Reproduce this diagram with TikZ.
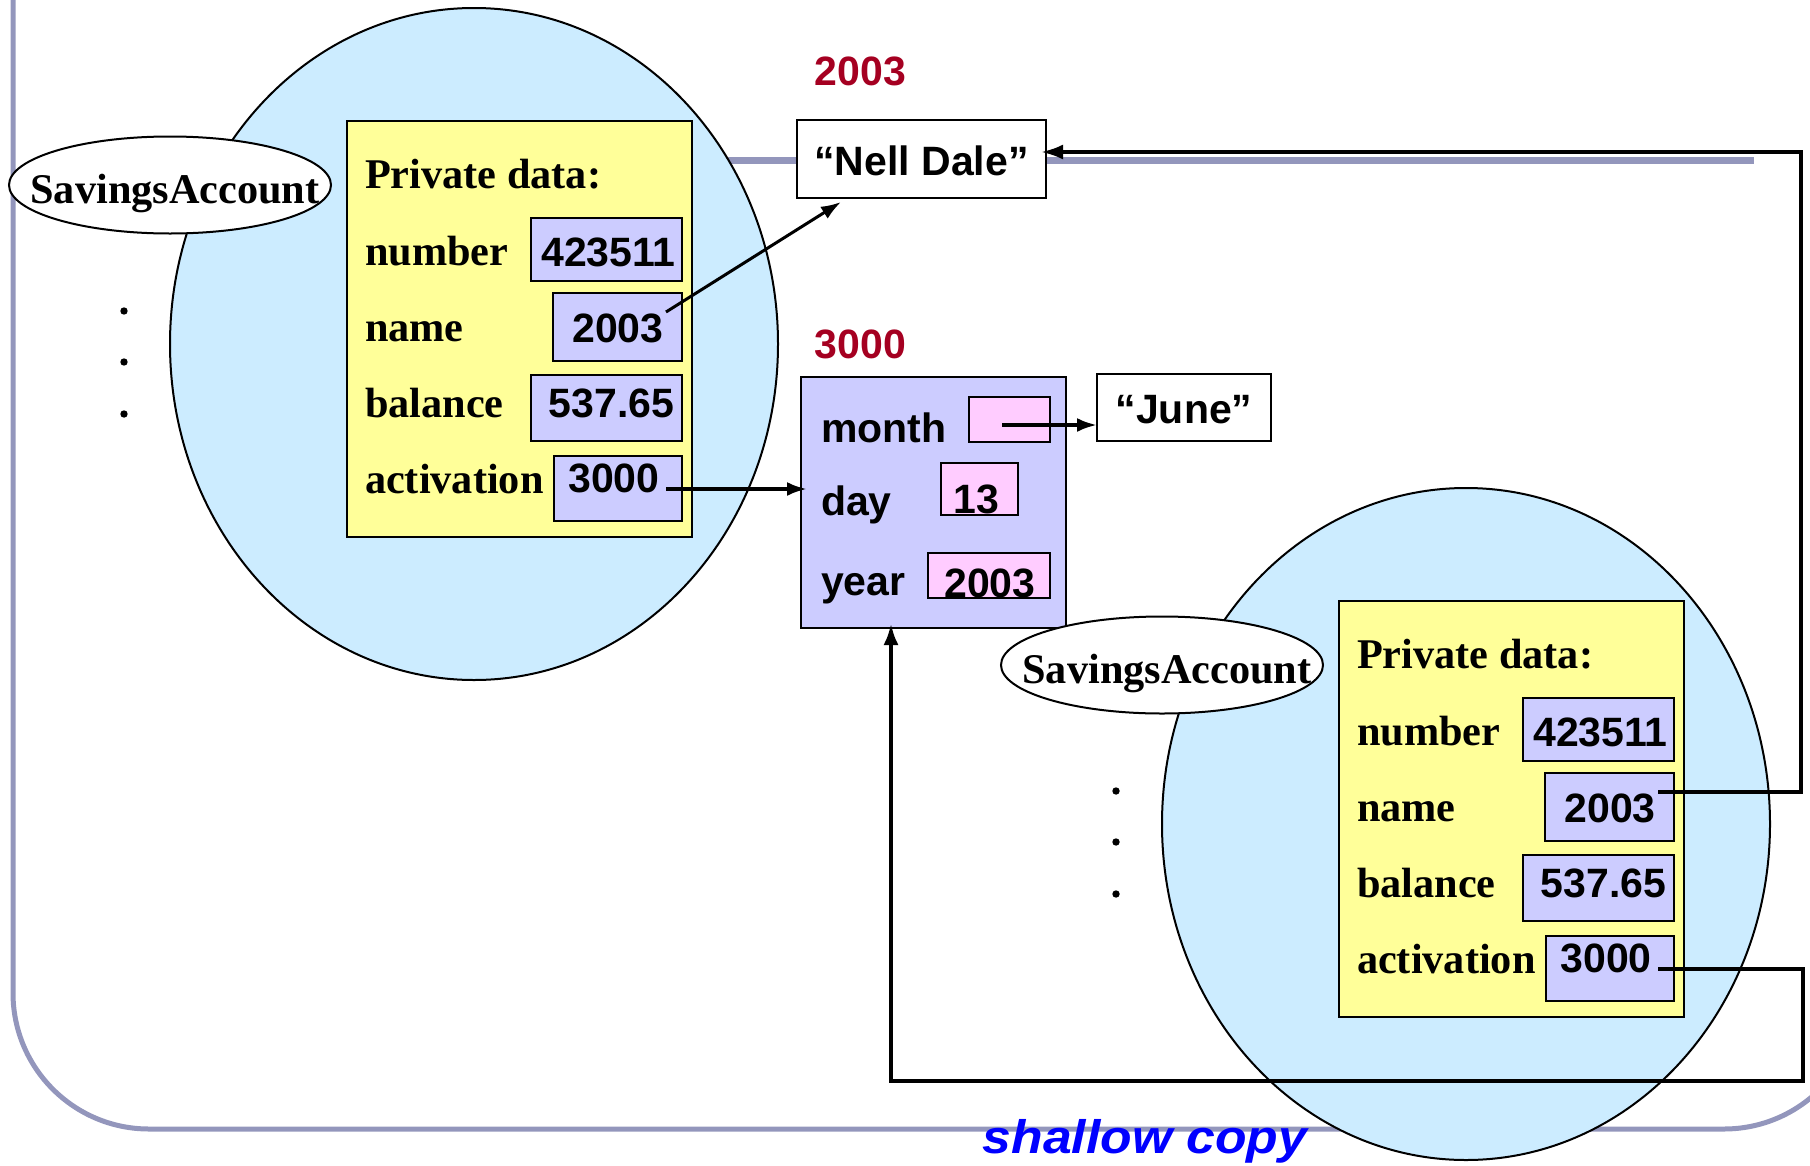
\documentclass[tikz,border=0pt]{standalone}
\usepackage{fontspec}
\usepackage{graphicx}
\setmainfont{Liberation Serif}
\newfontfamily\arialfont{Liberation Sans}
\usetikzlibrary{shapes.geometric,arrows.meta}

\definecolor{objblue}{RGB}{204,236,255}
\definecolor{privyellow}{RGB}{255,255,153}
\definecolor{vallav}{RGB}{204,204,255}
\definecolor{datepink}{RGB}{255,204,255}
\definecolor{framegray}{RGB}{147,150,188}
\definecolor{addrred}{RGB}{165,0,33}
\definecolor{capblue}{RGB}{0,0,255}

\tikzset{
  every node/.style={inner sep=0pt, outer sep=0pt},
  objell/.style={ellipse, draw, line width=2pt, fill=objblue,
    minimum width=608pt, minimum height=672pt},
  classell/.style={ellipse, draw, line width=2pt, fill=white,
    minimum width=322pt, minimum height=97pt},
  privbox/.style={rectangle, draw, line width=2pt, fill=privyellow},
  valbox/.style={rectangle, draw, line width=2pt, fill=vallav},
  fieldbox/.style={rectangle, draw, line width=2pt, fill=datepink},
  strbox/.style={rectangle, draw, line width=2pt, fill=white},
  serif/.style={font=\fontsize{42.3}{50}\selectfont\bfseries},
  sans/.style={font=\arialfont\fontsize{41}{49}\selectfont\bfseries},
  addr/.style={sans, text=addrred, anchor=base},
  ptr/.style={line width=3pt, line join=miter, -{Latex[length=20pt,width=14pt]}},
  backlink/.style={line join=miter, -{Latex[length=22pt,width=15pt]}},
  dot/.style={fill=black},
}

% one SavingsAccount object: ellipse, private data and its values
\newcommand\accountobject[1]{%
  \node[objell] (#1-obj) at (474,344) {};
  \node[privbox, minimum width=345pt, minimum height=416pt] (#1-priv) at (519.5,329) {};
  \node[valbox, minimum width=151pt, minimum height=63pt] (#1-numbox) at (606.5,249.5) {};
  \node[valbox, minimum width=129pt, minimum height=68pt] (#1-namebox) at (617.5,327) {};
  \node[valbox, minimum width=151pt, minimum height=66pt] (#1-balbox) at (606.5,408) {};
  \node[valbox, minimum width=128pt, minimum height=65pt] (#1-actbox) at (618,488.5) {};
  \node[serif, anchor=base west] (#1-head) at (365,188) {Private data:};
  \node[serif, anchor=base west] (#1-numlab) at (365,265) {number};
  \node[serif, anchor=base west] (#1-namelab) at (365,341) {name};
  \node[serif, anchor=base west] (#1-ballab) at (365,417) {balance};
  \node[serif, anchor=base west] (#1-actlab) at (365,493) {activation};
  \node[sans, anchor=base] (#1-numval) at (608.5,266) {423511};
  \node[sans, anchor=base] (#1-nameval) at (618,342) {2003};
  \node[sans, anchor=base] (#1-balval) at (611.5,417) {537.65};
  \node[sans, anchor=base] (#1-actval) at (614,492) {3000};
  \node[classell] (#1-class) at (170,185) {};
  \node[serif, anchor=base] (#1-classname) at (175,203) {SavingsAccount};
  \fill[dot] (124,311) circle[radius=3.7pt];
  \fill[dot] (124,362) circle[radius=3.7pt];
  \fill[dot] (124,414) circle[radius=3.7pt];
  \coordinate (#1-nameptr) at (666,312);
  \coordinate (#1-actptr) at (666,489);
}

\begin{document}
\begin{tikzpicture}[x=1pt,y=-1pt]
\useasboundingbox (0,0) rectangle (1810,1165);

% slide frame
\begin{scope}
  \clip (0,0) rectangle (1810,1165);
  \draw[framegray, line width=5pt, rounded corners=136pt]
    (13,-30) -- (13,1129) -- (1860,1129) -- (1860,-30);
  \draw[framegray, line width=7pt] (250,160) -- (1754,160);
\end{scope}

% original object
\accountobject{L}

% string object at 2003
\node[addr] (addrname) at (860.5,85) {2003};
\node[strbox, minimum width=249pt, minimum height=78pt] (nell) at (921.5,159) {};
\node[sans, anchor=base] (nelltext) at (921.5,175) {“Nell Dale”};

% date object at 3000
\node[addr] (addrdate) at (860.5,358) {3000};
\node[valbox, minimum width=265pt, minimum height=251pt] (date) at (933.5,502.5) {};
\node[fieldbox, minimum width=81pt, minimum height=45pt] (monthbox) at (1009.5,419.5) {};
\node[fieldbox, minimum width=77pt, minimum height=52pt] (daybox) at (979.5,489) {};
\node[fieldbox, minimum width=122pt, minimum height=45pt] (yearbox) at (989,575.5) {};
\node[sans, anchor=base west] (monthlab) at (821,442) {month};
\node[sans, anchor=base west] (daylab) at (821,515) {day};
\node[sans, anchor=base west] (yearlab) at (821,595) {year};
\node[sans, anchor=base] (dayval) at (976,513) {13};
\node[sans, anchor=base] (yearval) at (990,597) {2003};
\coordinate (monthptr) at (1002,425);

\node[strbox, minimum width=174pt, minimum height=67pt] (june) at (1184,407.5) {};
\node[sans, anchor=base] (junetext) at (1184,423) {“June”};

% copied object
\begin{scope}[shift={(992,480)}]
  \accountobject{R}
\end{scope}

% pointers of the original
\coordinate (nelltip) at (841,202);
\draw[ptr] (L-nameptr) -- (nelltip);
\draw[ptr, line width=3.5pt, shorten >=-6pt] (L-actptr) -- (L-actptr -| date.west);
\draw[ptr, line width=3.5pt] (monthptr) -- (monthptr -| june.west);

% pointers of the copy share the same targets
\coordinate (nameNE) at (1801,152);
\draw[backlink, line width=3.5pt, shorten >=-5pt] (R-nameptr) -| (nameNE) -- (nameNE -| nell.east);
\coordinate (actSE) at (1803,1081);
\coordinate (actSW) at (891,1081);
\draw[backlink, line width=4.5pt, shorten >=-5pt] (R-actptr) -| (actSE) -- (actSW) -- (actSW |- date.south);

% caption
\node[anchor=base, text=capblue, font=\arialfont\fontsize{47}{56}\selectfont\bfseries\itshape]
  (caption) at (1145,1153) {\scalebox{1.1}[1]{shallow copy}};
\end{tikzpicture}
\end{document}
